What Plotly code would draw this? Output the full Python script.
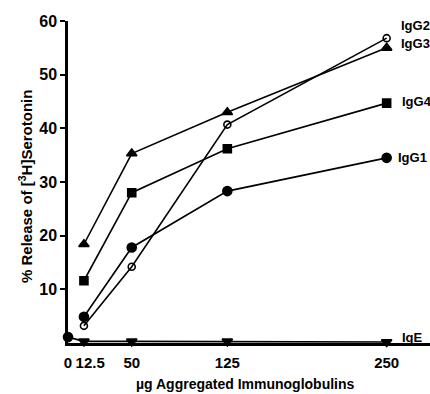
import plotly.graph_objects as go

doses = [12.5, 50, 125, 250]
igg1 = [4.9, 17.8, 28.3, 34.5]
igg2 = [3.2, 14.2, 40.7, 56.8]
igg3 = [18.4, 35.3, 43.0, 55.0]
igg4 = [11.6, 28.0, 36.2, 44.7]
ige_doses = [0, 12.5, 50, 125, 250]
ige = [1.1, 0.3, 0.3, 0.3, 0.2]

x_ticks = [0, 12.5, 50, 125, 250]
x_tick_text = ["0", "\u00a0\u00a0\u00a012.5", "50", "125", "250"]
y_ticks = [10, 20, 30, 40, 50, 60]

FONT = "Liberation Sans, Arial, sans-serif"

fig = go.Figure()

def add(x, y, symbol, name, size=9):
    fig.add_trace(go.Scatter(
        x=x, y=y, mode="lines+markers", name=name,
        line=dict(color="black", width=1.6),
        marker=dict(symbol=symbol, size=size, color="black",
                    line=dict(color="black", width=1.6)),
        cliponaxis=False, showlegend=False))

add(doses, igg1, "circle", "IgG1")
add(doses, igg2, "circle-open", "IgG2", 7)
add(doses, igg3, "triangle-up", "IgG3")
add(doses, igg4, "square", "IgG4", 8)
add(ige_doses, ige, ["circle", "triangle-down", "triangle-down", "triangle-down", "triangle-down"], "IgE")

labels = [("IgG2", 399, 25), ("IgG3", 399, 44), ("IgG4", 400, 101),
          ("IgG1", 396, 157), ("IgE", 400, 337)]
for text, px, py in labels:
    fig.add_annotation(text=text, xref="paper", yref="paper",
                       x=(px - 68) / 362, y=(343 - py) / 322,
                       xanchor="left", yanchor="middle", showarrow=False,
                       font=dict(family=FONT, size=13, color="black", weight="bold"))

fig.add_annotation(text="µg Aggregated Immunoglobulins", xref="paper", yref="paper",
                   x=(245 - 68) / 362, y=(343 - 384) / 322, xanchor="center", yanchor="middle",
                   showarrow=False, font=dict(family=FONT, size=14, color="black", weight="bold"))
fig.add_annotation(text="% Release of [<sup>3</sup>H]Serotonin", xref="paper", yref="paper",
                   x=(25 - 68) / 362, y=(343 - 187) / 322, xanchor="center", yanchor="middle",
                   textangle=-90, showarrow=False,
                   font=dict(family=FONT, size=15, color="black", weight="bold"))

fig.update_xaxes(range=[0, 284], tickvals=x_ticks, ticktext=x_tick_text, tickangle=0,
                 showline=True, linecolor="black", linewidth=2.5, ticks="",
                 ticklabelstandoff=4,
                 showgrid=False, zeroline=False,
                 tickfont=dict(family=FONT, size=15, color="black", weight="bold"))
fig.update_yaxes(range=[0, 60], tickvals=y_ticks, showline=True, linecolor="black",
                 linewidth=2.5, ticks="outside", ticklen=5, tickwidth=2, tickcolor="black",
                 showgrid=False, zeroline=False,
                 tickfont=dict(family=FONT, size=16, color="black", weight="bold"))

fig.update_layout(width=430, height=394, margin=dict(l=68, r=0, t=21, b=51),
                  plot_bgcolor="white", paper_bgcolor="white")

fig.write_html("out.html", config={"displayModeBar": False},
               post_script="document.body.style.margin='0';")
